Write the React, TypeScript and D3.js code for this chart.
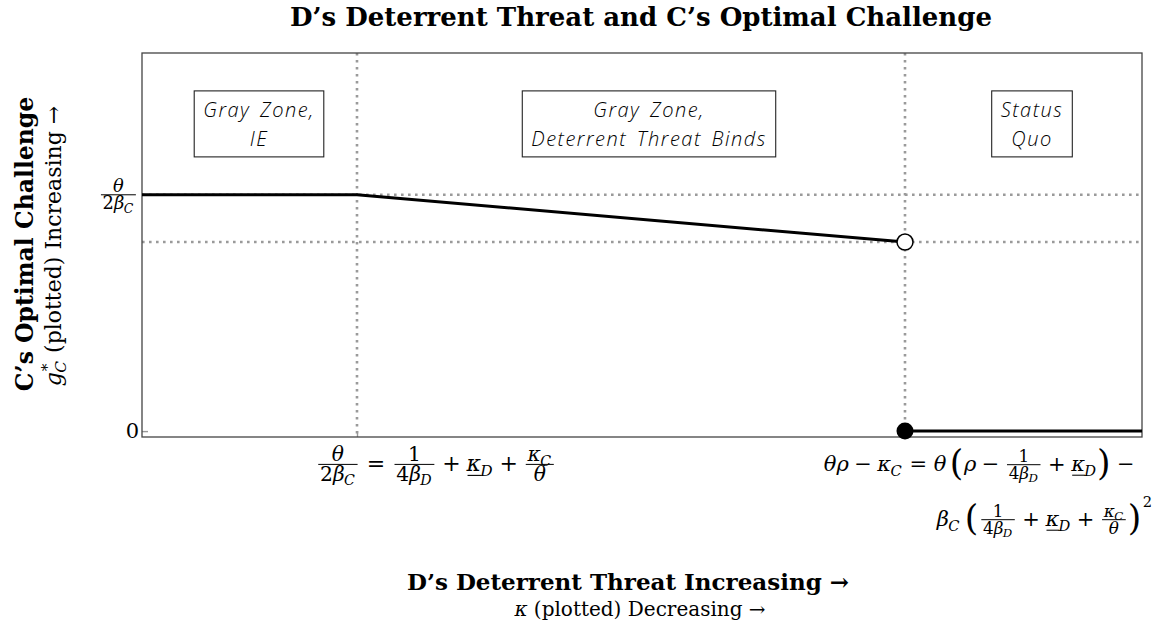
import React, { useRef, useEffect } from 'react';
import * as d3 from 'd3';

// chart data (kappa plotted on x, C's optimal challenge on y)
const xDomain = [0, 100];
const yDomain = [-0.025, 1.6];
const thresholdX = [21.5, 76.3];
const guideY = [1, 0.8];
const challengeX = [0, 21.5, 76.3];
const challengeY = [1, 1, 0.8];
const quoX = [76.3, 100];
const quoY = [0, 0];
const regionX = [11.7, 50.7, 89];
const regionY = 1.3;
const regionLabels = [
  ['Gray Zone,', 'IE'],
  ['Gray Zone,', 'Deterrent Threat Binds'],
  ['Status', 'Quo'],
];

const title = 'D\u2019s Deterrent Threat and C\u2019s Optimal Challenge';
const yTitle = 'C\u2019s Optimal Challenge';
const xTitle = 'D\u2019s Deterrent Threat Increasing \u2192';

type Part = { s: string; it?: boolean; sub?: string; sup?: string; u?: boolean };
type Atom =
  | { k: 'p'; parts: Part[] }
  | { k: 'f'; num: Part[]; den: Part[]; sc?: number }
  | { k: 'bin'; s: string }
  | { k: 'rel'; s: string }
  | { k: 'open' }
  | { k: 'close' }
  | { k: 'sup'; s: string }
  | { k: 'sp'; w: number };

const theta: Part = { s: '\u03B8', it: true };
const kappaC: Part = { s: '\u03BA', it: true, sub: 'C' };
const kappaD: Part = { s: '\u03BA', it: true, sub: 'D', u: true };
const quarter = (sc: number): Atom => ({ k: 'f', num: [{ s: '1' }], den: [{ s: '4' }, { s: '\u03B2', it: true, sub: 'D' }], sc });

const yTickTop: Atom[] = [{ k: 'f', num: [theta], den: [{ s: '2' }, { s: '\u03B2', it: true, sub: 'C' }], sc: 0.85 }];
const xTickIE: Atom[] = [
  { k: 'f', num: [theta], den: [{ s: '2' }, { s: '\u03B2', it: true, sub: 'C' }], sc: 0.92 },
  { k: 'rel', s: '=' },
  quarter(0.92),
  { k: 'bin', s: '+' },
  { k: 'p', parts: [kappaD] },
  { k: 'bin', s: '+' },
  { k: 'f', num: [kappaC], den: [theta], sc: 0.92 },
];
const xTickSQ1: Atom[] = [
  { k: 'p', parts: [{ s: '\u03B8\u03C1', it: true }] },
  { k: 'bin', s: '\u2212' },
  { k: 'p', parts: [kappaC] },
  { k: 'rel', s: '=' },
  { k: 'p', parts: [theta] },
  { k: 'sp', w: 0.15 },
  { k: 'open' },
  { k: 'p', parts: [{ s: '\u03C1', it: true }] },
  { k: 'bin', s: '\u2212' },
  quarter(0.8),
  { k: 'bin', s: '+' },
  { k: 'p', parts: [kappaD] },
  { k: 'close' },
  { k: 'bin', s: '\u2212' },
];
const xTickSQ2: Atom[] = [
  { k: 'p', parts: [{ s: '\u03B2', it: true, sub: 'C' }] },
  { k: 'sp', w: 0.2 },
  { k: 'open' },
  quarter(0.8),
  { k: 'bin', s: '+' },
  { k: 'p', parts: [kappaD] },
  { k: 'bin', s: '+' },
  { k: 'f', num: [kappaC], den: [theta], sc: 0.8 },
  { k: 'close' },
  { k: 'sup', s: '2' },
];

const SERIF = '"DejaVu Serif", "Liberation Serif", serif';
const SANS = '"Open Sans", "Liberation Sans", sans-serif';

const textW = (t: any) => (t.node() as SVGTextElement).getComputedTextLength();

function drawParts(g: any, parts: Part[], x0: number, y: number, fs: number) {
  let x = x0;
  parts.forEach(p => {
    const t = g.append('text').attr('x', x).attr('y', y)
      .attr('font-family', SERIF).attr('font-size', fs)
      .attr('font-style', p.it ? 'italic' : 'normal')
      .style('white-space', 'pre').text(p.s);
    const w = textW(t);
    if (p.u) {
      g.append('line').attr('x1', x + 0.05 * fs).attr('x2', x + w).attr('y1', y + 0.2 * fs).attr('y2', y + 0.2 * fs)
        .attr('stroke', '#000').attr('stroke-width', Math.max(0.8, 0.05 * fs));
    }
    x += w;
    let ex = 0;
    if (p.sup) {
      const s = g.append('text').attr('x', x + 0.04 * fs).attr('y', y - 0.42 * fs)
        .attr('font-family', SERIF).attr('font-size', 0.7 * fs).text(p.sup);
      ex = Math.max(ex, textW(s) + 0.04 * fs);
    }
    if (p.sub) {
      const s = g.append('text').attr('x', x - 0.03 * fs).attr('y', y + 0.22 * fs)
        .attr('font-family', SERIF).attr('font-size', 0.7 * fs).attr('font-style', 'italic').text(p.sub);
      ex = Math.max(ex, textW(s) + 0.02 * fs);
    }
    x += ex;
  });
  return x;
}

function drawMath(parent: any, atoms: Atom[], fs: number) {
  const g = parent.append('g');
  const axis = -0.3 * fs;
  let x = 0;
  atoms.forEach(a => {
    if (a.k === 'p') {
      x = drawParts(g, a.parts, x, 0, fs);
    } else if (a.k === 'bin' || a.k === 'rel') {
      const sp = (a.k === 'bin' ? 0.26 : 0.32) * fs;
      x += sp;
      const t = g.append('text').attr('x', x).attr('y', 0).attr('font-family', SERIF).attr('font-size', fs).text(a.s);
      x += textW(t) + sp;
    } else if (a.k === 'f') {
      const f = (a.sc ?? 0.7) * fs;
      const pad = 0.1 * fs;
      const ng = g.append('g');
      const nw = drawParts(ng, a.num, 0, 0, f);
      const dg = g.append('g');
      const dw = drawParts(dg, a.den, 0, 0, f);
      const bw = Math.max(nw, dw) + 0.16 * fs;
      x += pad;
      ng.attr('transform', `translate(${x + (bw - nw) / 2},${axis - 0.14 * fs})`);
      dg.attr('transform', `translate(${x + (bw - dw) / 2},${axis + 0.1 * fs + 0.7 * f})`);
      g.append('line').attr('x1', x).attr('x2', x + bw).attr('y1', axis).attr('y2', axis)
        .attr('stroke', '#000').attr('stroke-width', 1);
      x += bw + pad;
    } else if (a.k === 'open' || a.k === 'close') {
      const P = 1.65 * fs;
      const t = g.append('text').attr('x', x).attr('y', axis + 0.3 * P)
        .attr('font-family', SERIF).attr('font-size', P).attr('font-weight', 300)
        .text(a.k === 'open' ? '(' : ')');
      x += textW(t) + 0.04 * fs;
    } else if (a.k === 'sup') {
      const t = g.append('text').attr('x', x + 0.02 * fs).attr('y', axis - 0.62 * fs)
        .attr('font-family', SERIF).attr('font-size', 0.7 * fs).text(a.s);
      x += textW(t) + 0.02 * fs;
    } else if (a.k === 'sp') {
      x += a.w * fs;
    }
  });
  return { g, w: x };
}

const W = 1162;
const H = 634;
const plot = { left: 142, right: 1142, top: 53, bottom: 437 };

const App = () => {
  const svgRef = useRef<SVGSVGElement | null>(null);

  useEffect(() => {
    const svg = d3.select(svgRef.current);
    svg.selectAll('*').remove();
    svg.attr('width', W).attr('height', H);
    svg.append('rect').attr('width', W).attr('height', H).attr('fill', '#fff');

    const x = d3.scaleLinear().domain(xDomain).range([plot.left, plot.right]);
    const y = d3.scaleLinear().domain(yDomain).range([plot.bottom, plot.top]);

    // title
    svg.append('text').attr('x', 641).attr('y', 26).attr('text-anchor', 'middle')
      .attr('font-family', SERIF).attr('font-weight', 'bold').attr('font-size', 26).text(title);

    // dotted guides
    const dotted = (sel: any) => sel.attr('stroke', '#9a9a9a').attr('stroke-width', 2.6).attr('stroke-dasharray', '2.6 4.4');
    guideY.forEach(v => {
      svg.append('line').attr('x1', x(xDomain[0])).attr('x2', x(xDomain[1])).attr('y1', y(v)).attr('y2', y(v)).call(dotted);
    });
    thresholdX.forEach(v => {
      svg.append('line').attr('x1', x(v)).attr('x2', x(v)).attr('y1', y(yDomain[1])).attr('y2', y(yDomain[0])).call(dotted);
    });

    // ticks through d3 axes (labels drawn separately as math)
    const xAxis = svg.append('g').attr('transform', `translate(0,${plot.bottom})`)
      .call(d3.axisBottom(x).tickValues(thresholdX).tickSize(-6).tickFormat(() => ''));
    const yAxis = svg.append('g').attr('transform', `translate(${plot.left},0)`)
      .call(d3.axisLeft(y).tickValues(guideY.slice(0, 1).concat([0])).tickSize(-6).tickFormat(() => ''));
    [xAxis, yAxis].forEach(a => {
      a.select('.domain').remove();
      a.selectAll('line').attr('stroke', '#999').attr('stroke-width', 1.4);
    });

    // frame
    svg.append('rect').attr('x', plot.left).attr('y', plot.top)
      .attr('width', plot.right - plot.left).attr('height', plot.bottom - plot.top)
      .attr('fill', 'none').attr('stroke', '#444').attr('stroke-width', 1.3);

    // region boxes
    regionLabels.forEach((lines, i) => {
      const cx = x(regionX[i]);
      const cy = y(regionY);
      const grp = svg.append('g');
      const texts = lines.map((s, j) => grp.append('text').attr('x', cx).attr('y', cy - 7 + j * 29)
        .attr('text-anchor', 'middle').attr('font-family', SANS).attr('font-style', 'italic')
        .attr('font-weight', 300).attr('font-size', 20).attr('letter-spacing', 1.5)
        .attr('word-spacing', 3).text(s));
      const bw = (d3.max(texts, t => textW(t)) as number) + 18;
      grp.insert('rect', 'text').attr('x', cx - bw / 2).attr('y', cy - 33).attr('width', bw).attr('height', 66)
        .attr('fill', '#fff').attr('stroke', '#222').attr('stroke-width', 1.1);
    });

    // C's optimal challenge
    const line = d3.line<number>().x(d => x(d)).y((d, i) => y(challengeY[i]));
    svg.append('path').attr('d', line(challengeX)).attr('fill', 'none').attr('stroke', '#000').attr('stroke-width', 3);
    const quoLine = d3.line<number>().x(d => x(d)).y((d, i) => y(quoY[i]));
    svg.append('path').attr('d', quoLine(quoX)).attr('fill', 'none').attr('stroke', '#000').attr('stroke-width', 3);
    svg.append('circle').attr('cx', x(challengeX[2])).attr('cy', y(challengeY[2])).attr('r', 8)
      .attr('fill', '#fff').attr('stroke', '#000').attr('stroke-width', 1.5);
    svg.append('circle').attr('cx', x(quoX[0])).attr('cy', y(quoY[0])).attr('r', 8.5).attr('fill', '#000');

    // y tick labels
    svg.append('text').attr('x', 139).attr('y', y(0) + 7).attr('text-anchor', 'end')
      .attr('font-family', SERIF).attr('font-size', 21).text('0');
    const yt = drawMath(svg, yTickTop, 21);
    yt.g.attr('transform', `translate(${138 - yt.w},${y(guideY[0]) + 0.3 * 21})`);

    // x tick labels
    const t1 = drawMath(svg, xTickIE, 22);
    t1.g.attr('transform', `translate(${556 - t1.w},471)`);
    const t2 = drawMath(svg, xTickSQ1, 21);
    t2.g.attr('transform', `translate(${1140 - t2.w},471)`);
    const t3 = drawMath(svg, xTickSQ2, 21);
    t3.g.attr('transform', `translate(${1152 - t3.w},526)`);

    // y axis title
    const yl = svg.append('g').attr('transform', 'translate(33,244) rotate(-90)');
    yl.append('text').attr('text-anchor', 'middle').attr('font-family', SERIF).attr('font-weight', 'bold')
      .attr('font-size', 23.5).text(yTitle);
    const yl2 = svg.append('g').attr('transform', 'translate(61,246) rotate(-90)');
    const inner = yl2.append('g');
    const w2 = drawParts(inner, [{ s: 'g', it: true, sup: '*', sub: 'C' }, { s: ' (plotted) Increasing \u2192' }], 0, 0, 22);
    inner.attr('transform', `translate(${-w2 / 2},0)`);

    // x axis title
    svg.append('text').attr('x', 628).attr('y', 590).attr('text-anchor', 'middle')
      .attr('font-family', SERIF).attr('font-weight', 'bold').attr('font-size', 23).text(xTitle);
    const xl = svg.append('g');
    const w3 = drawParts(xl, [{ s: '\u03BA', it: true }, { s: ' (plotted) Decreasing \u2192' }], 0, 0, 20);
    xl.attr('transform', `translate(${640 - w3 / 2},616)`);
  }, []);

  return (
    <svg ref={svgRef} style={{ position: 'absolute', left: 0, top: 0, display: 'block' }}></svg>
  );
};

export default App;
